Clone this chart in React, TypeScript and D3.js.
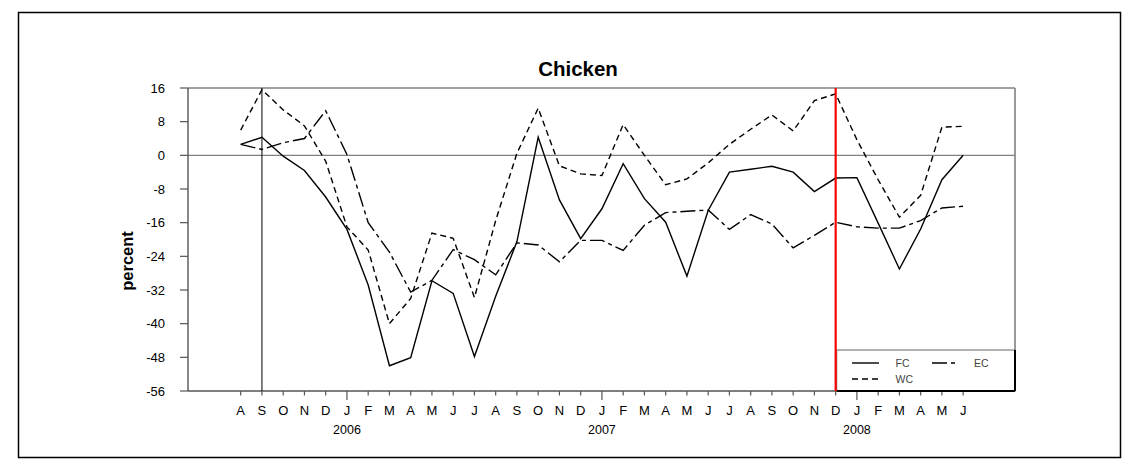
import React from 'react';
import * as d3 from 'd3';

const periods = [
  '2005-08', '2005-09', '2005-10', '2005-11', '2005-12',
  '2006-01', '2006-02', '2006-03', '2006-04', '2006-05', '2006-06',
  '2006-07', '2006-08', '2006-09', '2006-10', '2006-11', '2006-12',
  '2007-01', '2007-02', '2007-03', '2007-04', '2007-05', '2007-06',
  '2007-07', '2007-08', '2007-09', '2007-10', '2007-11', '2007-12',
  '2008-01', '2008-02', '2008-03', '2008-04', '2008-05', '2008-06',
];

const fcValues = [
  2.6, 4.3, -0.2, -3.6, -9.9,
  -17.6, -30.8, -50.0, -48.1, -29.8, -32.8, -47.8, -33.5, -20.5, 4.3, -10.6, -19.8,
  -12.7, -2.0, -10.3, -15.9, -28.7, -13.1, -4.0, -3.3, -2.6, -4.0, -8.6, -5.4,
  -5.3, -16.1, -27.0, -17.5, -5.8, 0.0,
];

const ecValues = [
  2.6, 1.4, 3.0, 4.0, 10.6,
  0.2, -16.0, -23.0, -32.5, -29.7, -22.4, -24.8, -28.4, -20.8, -21.3, -25.3, -20.2,
  -20.2, -22.6, -16.6, -13.6, -13.3, -13.0, -17.6, -14.1, -16.3, -22.0, -19.0, -15.9,
  -17.0, -17.3, -17.3, -15.5, -12.5, -12.1,
];

const wcValues = [
  6.0, 15.6, 10.8, 7.0, -1.4,
  -17.0, -22.5, -40.0, -34.0, -18.5, -19.7, -33.8, -15.5, 0.5, 11.2, -2.5, -4.4,
  -4.8, 7.3, 0.0, -7.0, -5.6, -1.8, 2.6, 6.2, 9.6, 5.8, 13.0, 14.6,
  3.7, -5.8, -14.7, -9.5, 6.7, 6.9,
];

const yTicks = [16, 8, 0, -8, -16, -24, -32, -40, -48, -56];
const monthLetters = ['J', 'F', 'M', 'A', 'M', 'J', 'J', 'A', 'S', 'O', 'N', 'D'];
const titleText = 'Chicken';
const yAxisLabel = 'percent';
const blackMarker = '2005-09';
const redMarker = '2007-12';

const seriesList = [
  { name: 'FC', values: fcValues, dash: 'none' },
  { name: 'EC', values: ecValues, dash: '15,4,4,4' },
  { name: 'WC', values: wcValues, dash: '6,4' },
];

const FONT = 'Arial, "Liberation Sans", sans-serif';

export default function App() {
  const W = 1139;
  const H = 471;
  const left = 188;
  const right = 1015;
  const top = 88;
  const bottom = 391;

  const n = periods.length;
  const x = d3.scaleLinear().domain([-2.48, n - 1 + 2.44]).range([left, right]);
  const y = d3.scaleLinear().domain([-56, 16]).range([bottom, top]);

  const line = d3
    .line<number>()
    .x((_, i) => x(i))
    .y((d) => y(d));

  const xBlack = x(periods.indexOf(blackMarker));
  const xRed = x(periods.indexOf(redMarker));

  const legL = xRed + 1;
  const legT = 350;
  const legR = right;
  const legB = bottom;

  const grey = '#808080';

  return (
    <svg
      width={W}
      height={H}
      style={{ position: 'absolute', left: 0, top: 0, background: '#fff' }}
      fontFamily={FONT}
    >
      <rect x={0} y={0} width={W} height={H} fill="#fff" />
      {/* outer frame */}
      <rect x={18.5} y={12.5} width={1102} height={445} fill="none" stroke="#000" strokeWidth={1.5} />

      {/* title */}
      <text x={578} y={76} textAnchor="middle" fontSize={20.5} fontWeight="bold" fill="#000">
        {titleText}
      </text>

      {/* zero line */}
      <line x1={left} x2={right} y1={y(0)} y2={y(0)} stroke={grey} strokeWidth={1.2} />

      {/* plot frame */}
      <line x1={left} x2={right} y1={top} y2={top} stroke={grey} strokeWidth={1.6} />
      <line x1={right} x2={right} y1={top} y2={bottom} stroke={grey} strokeWidth={1.6} />
      <line x1={left} x2={left} y1={top} y2={bottom} stroke="#555" strokeWidth={1.4} />
      <line x1={left} x2={right} y1={bottom} y2={bottom} stroke="#555" strokeWidth={1.4} />

      {/* y ticks */}
      {yTicks.map((t) => (
        <g key={t}>
          <line x1={left - 8} x2={left} y1={y(t)} y2={y(t)} stroke="#555" strokeWidth={1.2} />
          <text x={165} y={y(t)} dy="0.36em" textAnchor="end" fontSize={13} fill="#000">
            {t}
          </text>
        </g>
      ))}

      {/* y label */}
      <text
        transform={`translate(133,${261}) rotate(-90)`}
        textAnchor="middle"
        fontSize={16.5}
        fontWeight="bold"
        fill="#000"
      >
        {yAxisLabel}
      </text>

      {/* x ticks and labels */}
      {periods.map((p, i) => {
        const m = +p.slice(5, 7);
        const isJan = m === 1;
        return (
          <g key={p}>
            <line
              x1={x(i)}
              x2={x(i)}
              y1={bottom}
              y2={bottom + (isJan ? 9 : 4.5)}
              stroke="#555"
              strokeWidth={1.2}
            />
            <text x={x(i)} y={415} textAnchor="middle" fontSize={13} fill="#000">
              {monthLetters[m - 1]}
            </text>
            {isJan && (
              <text x={x(i)} y={434} textAnchor="middle" fontSize={12.5} fill="#000">
                {p.slice(0, 4)}
              </text>
            )}
          </g>
        );
      })}

      {/* series */}
      {seriesList.map((s) => (
        <path
          key={s.name}
          d={line(s.values) || ''}
          fill="none"
          stroke="#000"
          strokeWidth={1.4}
          strokeDasharray={s.dash === 'none' ? undefined : s.dash}
        />
      ))}

      {/* black marker line */}
      <line x1={xBlack} x2={xBlack} y1={top} y2={bottom} stroke="#000" strokeWidth={1} />

      {/* legend box */}
      <rect x={legL} y={legT} width={legR - legL} height={legB - legT} fill="#fff" stroke={grey} strokeWidth={1.2} />
      <line x1={legR} x2={legR} y1={legT} y2={legB} stroke="#000" strokeWidth={2} />
      <line x1={legL} x2={legR} y1={legB} y2={legB} stroke="#000" strokeWidth={2} />
      <line x1={852} x2={879} y1={363} y2={363} stroke="#000" strokeWidth={1.4} />
      <text x={895.5} y={367} fontSize={10.5} fill="#444">
        {seriesList[0].name}
      </text>
      <line x1={932} x2={958} y1={363} y2={363} stroke="#000" strokeWidth={1.4} strokeDasharray={seriesList[1].dash} />
      <text x={974} y={367} fontSize={10.5} fill="#444">
        {seriesList[1].name}
      </text>
      <line x1={852} x2={879} y1={379} y2={379} stroke="#000" strokeWidth={1.4} strokeDasharray={seriesList[2].dash} />
      <text x={895.5} y={383} fontSize={10.5} fill="#444">
        {seriesList[2].name}
      </text>

      {/* red marker line */}
      <line x1={xRed} x2={xRed} y1={top} y2={bottom} stroke="#ff0000" strokeWidth={2.2} />
    </svg>
  );
}
